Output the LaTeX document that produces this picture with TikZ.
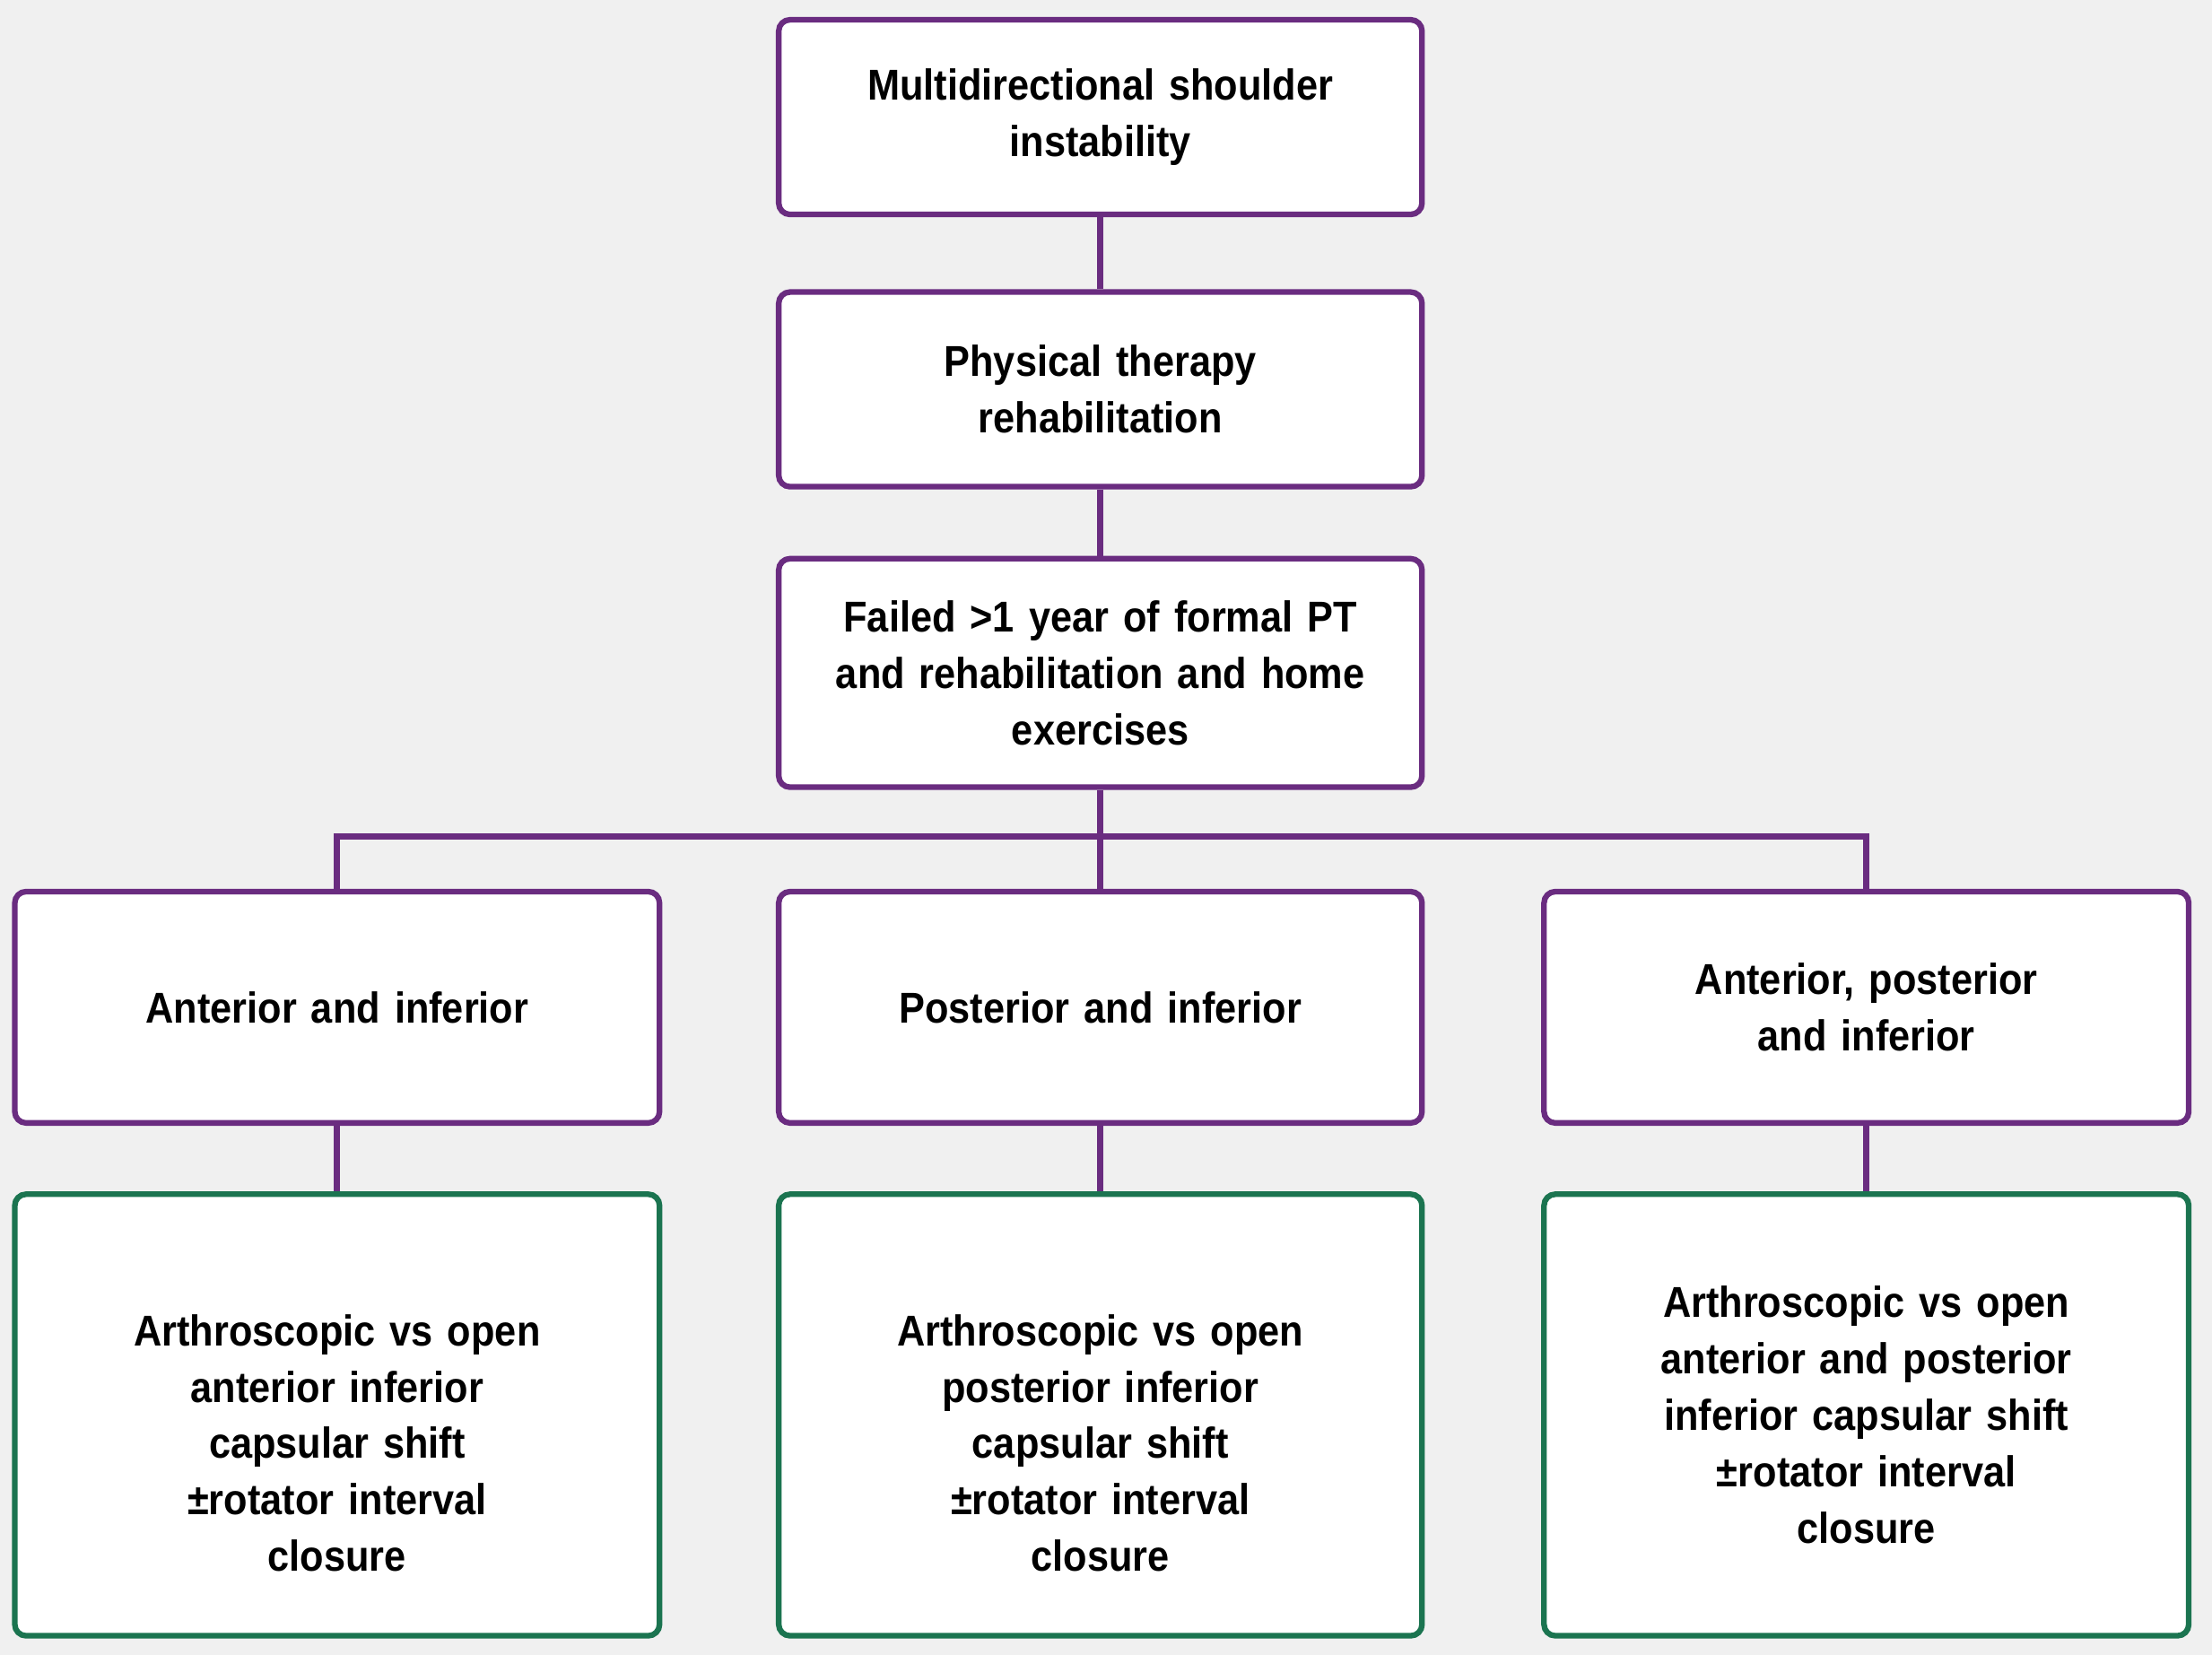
\documentclass[tikz,border=0pt]{standalone}
\usepackage{fontspec}
\setmainfont{Liberation Sans}[FakeStretch=0.9]
\definecolor{bg}{HTML}{F0F0F0}
\definecolor{pur}{HTML}{6A2C80}
\definecolor{grn}{HTML}{1B7450}
\begin{document}
\begin{tikzpicture}[x=0.5pt,y=-0.5pt,
  box/.style={draw=pur,line width=2pt,fill=white,rounded corners=4pt,font=\bfseries\fontsize{15.3}{20}\selectfont,align=center,inner sep=0pt},
  gbox/.style={box,draw=grn},
  lnk/.style={draw=pur,line width=2.2pt}]
\fill[bg] (0,0) rectangle (1568,1173);
\useasboundingbox (0,0) rectangle (1568,1173);
\newcommand\bx[7]{\node[#1,minimum width=#4*0.5pt,minimum height=#5*0.5pt,text width=#4*0.5pt-16pt] (#2) at (#3,#6) {#7};}
\bx{box}{a}{780}{456}{138}{83}{Multidirectional shoulder\\instability}
\bx{box}{b}{780}{456}{138}{276}{Physical therapy\\rehabilitation}
\bx{box}{c}{780}{456}{162}{477}{Failed >1 year of formal PT\\and rehabilitation and home\\exercises}
\bx{box}{d1}{239}{457}{164}{714}{Anterior and inferior}
\bx{box}{d2}{780}{456}{164}{714}{Posterior and inferior}
\bx{box}{d3}{1323}{457}{164}{714}{Anterior, posterior\\and inferior}
\bx{gbox}{e1}{239}{457}{313}{1003}{\rule{0pt}{31pt}Arthroscopic vs open\\anterior inferior\\capsular shift\\±rotator interval\\closure}
\bx{gbox}{e2}{780}{456}{313}{1003}{\rule{0pt}{31pt}Arthroscopic vs open\\posterior inferior\\capsular shift\\±rotator interval\\closure}
\bx{gbox}{e3}{1323}{457}{313}{1003}{Arthroscopic vs open\\anterior and posterior\\inferior capsular shift\\±rotator interval\\closure}
\coordinate (j) at (780,593);
\draw[lnk] (a) -- (b);
\draw[lnk] (b) -- (c);
\draw[lnk] (c) -- (d2);
\draw[lnk] (d1.north) |- (j) -| (d3.north);
\draw[lnk] (d1) -- (e1);
\draw[lnk] (d2) -- (e2);
\draw[lnk] (d3) -- (e3);
\end{tikzpicture}
\end{document}
